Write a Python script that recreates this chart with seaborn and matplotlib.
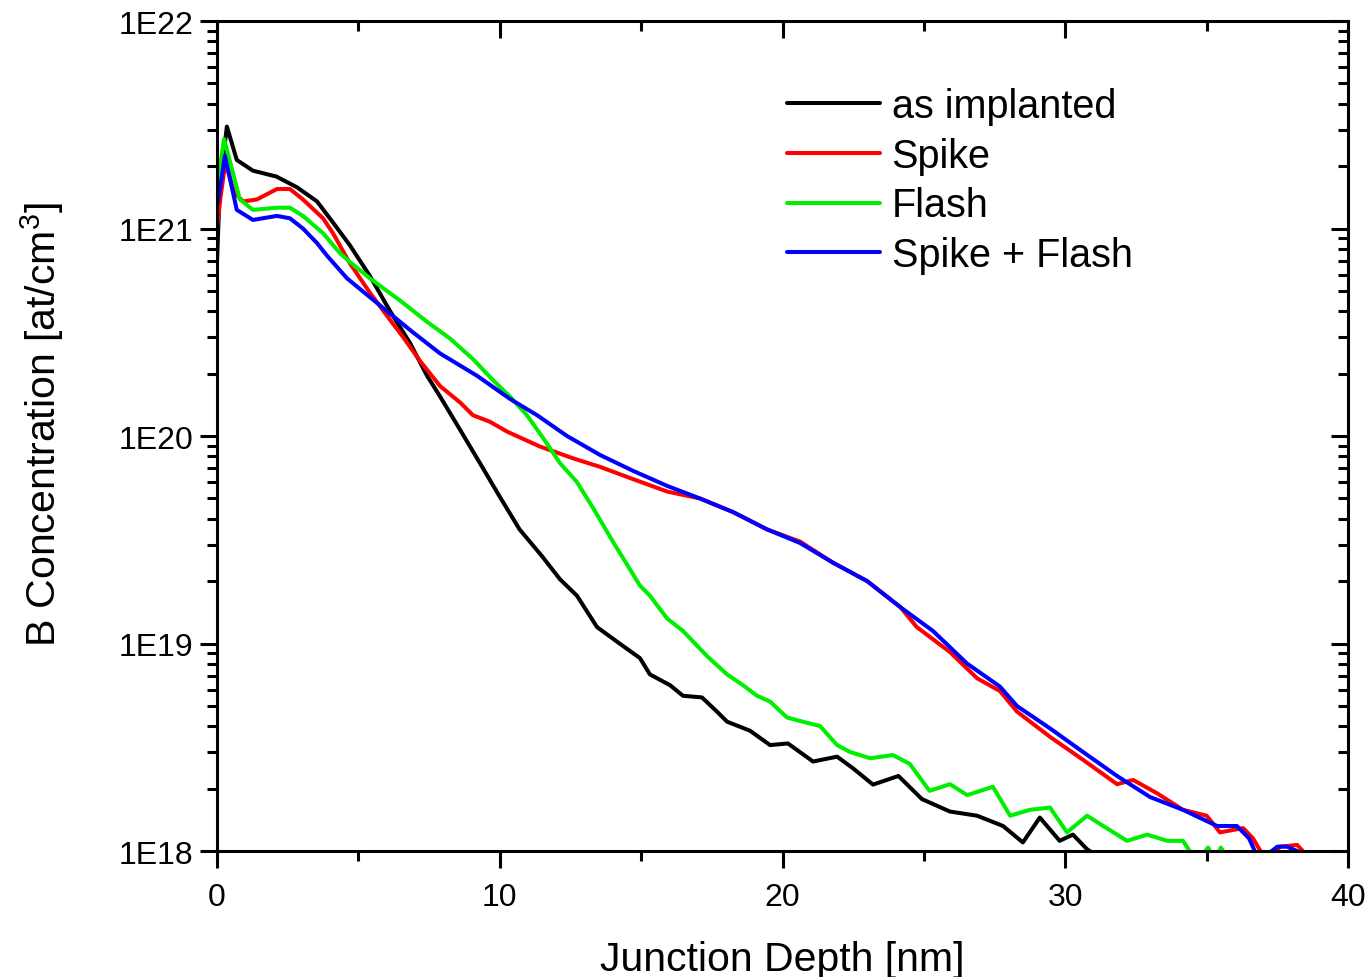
import math
import matplotlib
matplotlib.use("Agg")
import matplotlib.pyplot as plt
import matplotlib.ticker as mticker
from matplotlib.lines import TICKDOWN, TICKLEFT
import seaborn as sns
import pandas as pd

# depth [nm] and B concentration [at/cm3]
as_impl_x = [0.0, 0.1, 0.35, 0.7, 1.27, 2.1, 2.83, 3.54, 4.1, 4.7, 5.41, 6.12, 6.83, 7.43, 7.89,
             8.6, 9.3, 10.0, 10.7, 11.5, 12.13, 12.73, 13.44, 14.15, 14.96, 15.31, 16.02, 16.48,
             17.15, 17.68, 18.04, 18.85, 19.56, 20.19, 21.08, 21.93, 22.5, 23.2, 24.1, 24.93,
             25.92, 26.88, 27.8, 28.5, 29.1, 29.8, 30.27, 30.77, 31.1]
as_impl_y = [6.9e20, 1.6e21, 3.1e21, 2.14e21, 1.9e21, 1.78e21, 1.58e21, 1.35e21, 1.07e21, 8.3e20,
             5.9e20, 4.0e20, 2.8e20, 1.95e20, 1.55e20, 1.07e20, 7.4e19, 5.1e19, 3.55e19,
             2.63e19, 2.04e19, 1.7e19, 1.2e19, 1.02e19, 8.5e18, 7.1e18, 6.3e18, 5.6e18, 5.5e18,
             4.7e18, 4.2e18, 3.8e18, 3.24e18, 3.3e18, 2.7e18, 2.85e18, 2.5e18, 2.09e18, 2.3e18,
             1.78e18, 1.55e18, 1.48e18, 1.32e18, 1.1e18, 1.45e18, 1.12e18, 1.2e18, 1.02e18,
             9.5e17]

spike_x = [0.0, 0.12, 0.3, 0.6, 0.92, 1.41, 2.12, 2.58, 3.04, 3.75, 4.1, 4.7, 5.41, 6.01, 6.58,
           7.18, 7.89, 8.6, 9.05, 9.66, 10.26, 11.42, 12.6, 13.55, 14.71, 15.92, 17.08, 18.25,
           19.45, 20.62, 21.79, 22.99, 24.16, 24.75, 25.92, 26.88, 27.69, 28.29, 29.46, 30.63,
           31.83, 32.4, 33.24, 34.16, 35.0, 35.47, 36.29, 36.64, 36.9, 37.2, 37.6, 38.2, 38.4]
spike_y = [1.0e21, 1.4e21, 2.1e21, 1.5e21, 1.35e21, 1.38e21, 1.55e21, 1.55e21, 1.38e21,
           1.12e21, 9.5e20, 6.8e20, 4.9e20, 3.8e20, 3.0e20, 2.3e20, 1.74e20, 1.45e20, 1.26e20,
           1.17e20, 1.05e20, 8.9e19, 7.8e19, 7.1e19, 6.2e19, 5.4e19, 5.0e19, 4.3e19, 3.55e19,
           3.1e19, 2.45e19, 2.0e19, 1.5e19, 1.2e19, 9.1e18, 6.8e18, 5.9e18, 4.7e18, 3.55e18,
           2.75e18, 2.1e18, 2.2e18, 1.9e18, 1.58e18, 1.48e18, 1.23e18, 1.29e18, 1.15e18,
           1.0e18, 9.3e17, 1.05e18, 1.07e18, 1.0e18]

flash_x = [0.0, 0.05, 0.25, 0.81, 1.27, 2.12, 2.58, 3.04, 3.75, 4.35, 4.7, 5.41, 6.47, 7.43, 8.24,
           9.05, 9.76, 10.36, 10.96, 11.53, 12.13, 12.73, 13.3, 14.0, 14.96, 15.31, 15.92, 16.48,
           17.33, 18.04, 18.6, 19.1, 19.56, 20.16, 20.72, 21.33, 21.93, 22.39, 23.1, 23.9, 24.5,
           25.2, 25.92, 26.53, 27.44, 28.05, 28.75, 29.46, 30.06, 30.77, 31.58, 32.18, 32.9,
           33.6, 34.16, 34.4, 34.7, 35.05, 35.3, 35.5, 35.8]
flash_y = [1.55e21, 1.74e21, 2.7e21, 1.38e21, 1.23e21, 1.26e21, 1.26e21, 1.15e21, 9.5e20,
           7.6e20, 6.9e20, 5.75e20, 4.5e20, 3.55e20, 2.95e20, 2.35e20, 1.86e20, 1.55e20,
           1.26e20, 9.8e19, 7.4e19, 6.0e19, 4.5e19, 3.1e19, 1.9e19, 1.7e19, 1.32e19, 1.15e19,
           8.7e18, 7.1e18, 6.3e18, 5.6e18, 5.25e18, 4.4e18, 4.2e18, 4.0e18, 3.24e18, 3.0e18,
           2.8e18, 2.9e18, 2.63e18, 1.95e18, 2.1e18, 1.86e18, 2.04e18, 1.48e18, 1.58e18,
           1.62e18, 1.23e18, 1.48e18, 1.26e18, 1.12e18, 1.2e18, 1.12e18, 1.12e18, 1.0e18,
           9.0e17, 1.04e18, 9.0e17, 1.04e18, 9.0e17]

spike_flash_x = [0.0, 0.05, 0.28, 0.7, 1.27, 2.12, 2.58, 3.04, 3.54, 3.89, 4.6, 5.3, 6.01, 6.93,
                 7.89, 9.2, 10.36, 11.32, 12.38, 13.55, 14.71, 15.92, 17.08, 18.25, 19.45, 20.62,
                 21.79, 22.99, 24.16, 25.32, 26.53, 27.69, 28.29, 29.46, 30.63, 31.83, 33.0,
                 34.16, 35.37, 36.07, 36.5, 36.7, 37.0, 37.5, 37.84, 38.2, 38.4]
spike_flash_y = [1.3e21, 1.38e21, 2.24e21, 1.23e21, 1.1e21, 1.15e21, 1.12e21, 1.0e21, 8.5e20,
                 7.4e20, 5.75e20, 4.8e20, 4.0e20, 3.16e20, 2.5e20, 1.95e20, 1.51e20, 1.26e20,
                 1.0e20, 8.1e19, 6.8e19, 5.75e19, 5.0e19, 4.3e19, 3.55e19, 3.05e19, 2.45e19,
                 2.0e19, 1.5e19, 1.15e19, 8.0e18, 6.2e18, 5.0e18, 3.9e18, 3.0e18, 2.3e18,
                 1.82e18, 1.58e18, 1.32e18, 1.32e18, 1.15e18, 1.0e18, 9.3e17, 1.05e18, 1.05e18,
                 1.0e18, 9.5e17]

labels = ["as implanted", "Spike", "Flash", "Spike + Flash"]
colors = ["#000000", "#ff0000", "#00ee00", "#0000ff"]

frames = []
for lab, xs, ys in zip(labels,
                       [as_impl_x, spike_x, flash_x, spike_flash_x],
                       [as_impl_y, spike_y, flash_y, spike_flash_y]):
    frames.append(pd.DataFrame({"depth": xs, "conc": ys, "sample": lab}))
df = pd.concat(frames, ignore_index=True)

sns.set_style("ticks")
plt.rcParams["font.family"] = ["Liberation Sans", "DejaVu Sans"]
plt.rcParams["mathtext.default"] = "regular"
for k in ["text.color", "axes.labelcolor", "xtick.color", "ytick.color", "axes.edgecolor"]:
    plt.rcParams[k] = "black"

fig = plt.figure(figsize=(13.69, 9.78), dpi=100)
ax = fig.add_axes([0.1585, 0.1288, 0.8262, 0.8487])

sns.lineplot(data=df, x="depth", y="conc", hue="sample", hue_order=labels,
             palette=colors, estimator=None, sort=False, linewidth=2.9, ax=ax)

ax.set_yscale("log")
ax.set_xlim(0, 40)
ax.set_ylim(1e18, 1e22)
ax.xaxis.set_major_locator(mticker.MultipleLocator(10))
ax.xaxis.set_minor_locator(mticker.MultipleLocator(5))
ax.yaxis.set_major_locator(mticker.LogLocator(base=10, numticks=10))
ax.yaxis.set_minor_locator(mticker.LogLocator(base=10, subs=range(2, 10), numticks=20))
ax.yaxis.set_major_formatter(mticker.FuncFormatter(lambda v, p: "1E%d" % round(math.log10(v))))
ax.yaxis.set_minor_formatter(mticker.NullFormatter())

for s in ax.spines.values():
    s.set_visible(True)
    s.set_linewidth(2.2)

ax.tick_params(which="major", direction="out", length=12, width=2.2, labelsize=23, pad=5)
ax.tick_params(which="minor", direction="out", length=7, width=2.2)
ax.tick_params(axis="x", which="major", pad=10)
ax.tick_params(which="both", top=True, right=True)
# ticks on top/right point inward
for t in ax.xaxis.get_major_ticks() + ax.xaxis.get_minor_ticks():
    t.tick2line.set_marker(TICKDOWN)
for t in ax.yaxis.get_major_ticks() + ax.yaxis.get_minor_ticks():
    t.tick2line.set_marker(TICKLEFT)

ax.set_xlabel("Junction Depth [nm]", fontsize=29.5)
ax.set_ylabel("B Concentration [at/cm$^3$]", fontsize=29.5)
ax.xaxis.set_label_coords(0.5, -0.107)
ax.yaxis.set_label_coords(-0.1335, 0.515)

leg = ax.legend(loc="upper left", bbox_to_anchor=(0.4897, 0.94), frameon=False,
                fontsize=28.5, handlelength=2.35, handletextpad=0.3, labelspacing=0.3,
                borderaxespad=0)
for line in leg.get_lines():
    line.set_linewidth(2.9)

fig.savefig("out.png", dpi=100)
